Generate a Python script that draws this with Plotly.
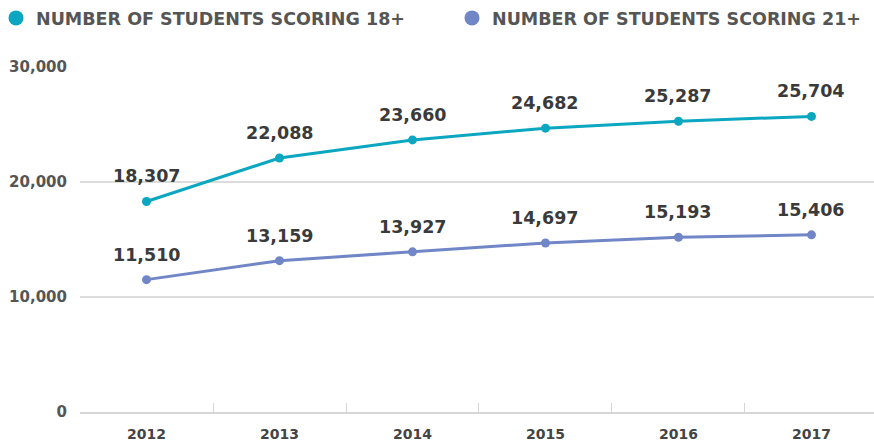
import plotly.graph_objects as go

years = ["2012", "2013", "2014", "2015", "2016", "2017"]
scoring_18 = [18307, 22088, 23660, 24682, 25287, 25704]
scoring_21 = [11510, 13159, 13927, 14697, 15193, 15406]
series_names = ["NUMBER OF STUDENTS SCORING 18+", "NUMBER OF STUDENTS SCORING 21+"]
colors = ["#0ba7c1", "#7186c6"]
y_ticks = [0, 10000, 20000, 30000]
y_tick_text = ["0", "10,000", "20,000", "30,000"]

FONT = "DejaVu Sans"
fig = go.Figure()

legend_ids = ["legend", "legend2"]
for name, vals, col, lg in zip(series_names, [scoring_18, scoring_21], colors, legend_ids):
    fig.add_trace(go.Scatter(
        x=years, y=vals, mode="lines+markers", showlegend=False,
        line=dict(color=col, width=3), marker=dict(color=col, size=9),
        hoverinfo="skip"))
    fig.add_trace(go.Scatter(
        x=[None], y=[None], mode="markers", name=name, legend=lg,
        marker=dict(color=col, size=15)))
    for i, v in enumerate(vals):
        fig.add_annotation(x=i, y=v, xref="x", yref="y", text=f"{v:,}", showarrow=False,
                           yshift=25,
                           font=dict(family=FONT, size=17.5, color="#3a3a3a", weight="bold"))

legend_font = dict(family=FONT, size=17.5, color="#555555", weight="bold")
fig.update_layout(
    width=874, height=444,
    margin=dict(l=80, r=0, t=67, b=32, autoexpand=False),
    plot_bgcolor="white", paper_bgcolor="white",
    font=dict(family=FONT, color="#555555"),
    legend=dict(orientation="h", x=-0.1058, xanchor="left",
                y=1.0, yref="container", yanchor="top",
                font=legend_font, itemclick=False),
    legend2=dict(orientation="h", x=0.4685, xanchor="left",
                 y=1.0, yref="container", yanchor="top",
                 font=legend_font, itemclick=False),
    xaxis=dict(type="category", range=[-0.5, 5.47], tickson="boundaries", automargin=False,
               ticks="inside", ticklen=9, tickcolor="#d6d6d6", tickwidth=1,
               showgrid=False, showline=True, linecolor="#d6d6d6", linewidth=1.5,
               ticklabelstandoff=8,
               tickfont=dict(family=FONT, size=14, color="#444444", weight="bold")),
    yaxis=dict(range=[0, 30000], tickvals=y_ticks, ticktext=y_tick_text, automargin=False,
               showgrid=True, gridcolor="#dcdcdc", gridwidth=1.5, zeroline=False,
               ticklabelstandoff=12, ticks="",
               tickfont=dict(family=FONT, size=15, color="#555555", weight="bold")),
)

fig.write_html("out.html", config={"displayModeBar": False},
               post_script="document.body.style.margin='0';document.body.style.overflow='hidden';")
